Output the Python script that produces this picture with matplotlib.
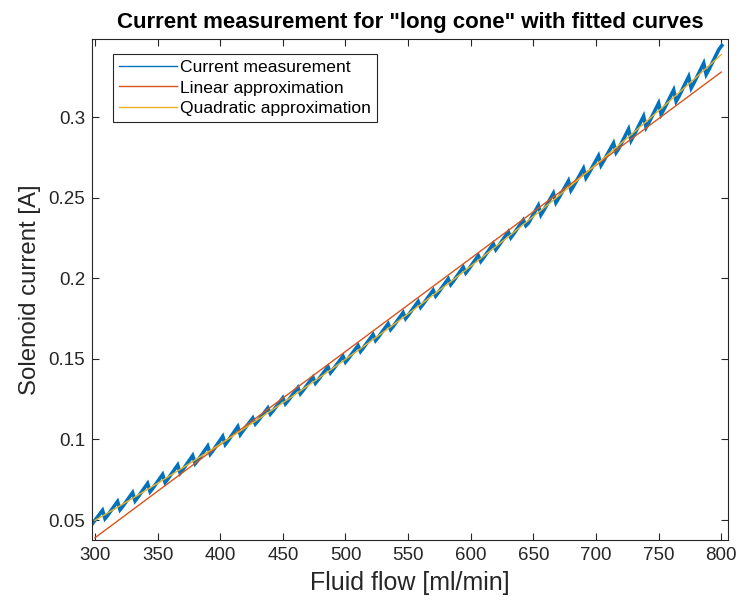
import numpy as np
import matplotlib
matplotlib.use("Agg")
import matplotlib.pyplot as plt

plt.rcParams['font.family'] = ['Liberation Sans', 'DejaVu Sans']

# measured solenoid current while sweeping the flow (one row per ripple of the controller)
flow_ml_min = [
    297.6, 306, 308,  310, 318, 320,  322, 330, 332,  334, 342, 344,
    346, 354, 356,  358, 366, 368,  370, 378, 380,  382, 390, 392,
    394, 402, 404,  406, 414, 416,  418, 426, 428,  430, 438, 440,
    442, 450, 452,  454, 462, 464,  466, 474, 476,  478, 486, 488,
    490, 498, 500,  502, 510, 512,  514, 522, 524,  526, 534, 536,
    538, 546, 548,  550, 558, 560,  562, 570, 572,  574, 582, 584,
    586, 594, 596,  598, 606, 608,  610, 618, 620,  622, 630, 632,
    634, 642, 644,  646, 654, 656,  658, 666, 668,  670, 678, 680,
    682, 690, 692,  694, 702, 704,  706, 714, 716,  718, 726, 728,
    730, 738, 740,  742, 750, 752,  754, 762, 764,  766, 774, 776,
    778, 786, 788,  790, 798, 800.5,
]
current_a = [
    0.0474, 0.0560, 0.0509,  0.0528, 0.0615, 0.0564,  0.0583, 0.0670, 0.0619,
    0.0639, 0.0727, 0.0676,  0.0695, 0.0783, 0.0733,  0.0753, 0.0841, 0.0791,
    0.0811, 0.0900, 0.0850,  0.0869, 0.0959, 0.0909,  0.0929, 0.1019, 0.0969,
    0.0989, 0.1080, 0.1030,  0.1052, 0.1133, 0.1096,  0.1114, 0.1195, 0.1158,
    0.1176, 0.1258, 0.1221,  0.1239, 0.1322, 0.1284,  0.1303, 0.1386, 0.1349,
    0.1368, 0.1451, 0.1414,  0.1433, 0.1517, 0.1480,  0.1499, 0.1583, 0.1546,
    0.1566, 0.1651, 0.1614,  0.1633, 0.1718, 0.1682,  0.1701, 0.1787, 0.1750,
    0.1770, 0.1856, 0.1820,  0.1840, 0.1926, 0.1890,  0.1910, 0.1997, 0.1961,
    0.1981, 0.2069, 0.2033,  0.2053, 0.2141, 0.2105,  0.2125, 0.2214, 0.2178,
    0.2199, 0.2288, 0.2252,  0.2273, 0.2362, 0.2327,  0.2342, 0.2452, 0.2393,
    0.2418, 0.2528, 0.2469,  0.2494, 0.2605, 0.2546,  0.2571, 0.2682, 0.2623,
    0.2648, 0.2760, 0.2701,  0.2727, 0.2839, 0.2780,  0.2803, 0.2926, 0.2855,
    0.2883, 0.3006, 0.2936,  0.2963, 0.3087, 0.3017,  0.3045, 0.3169, 0.3099,
    0.3126, 0.3252, 0.3181,  0.3209, 0.3335, 0.3265,  0.3293, 0.3419, 0.3445,
]
fit_range = [300, 800]

flow = np.array(flow_ml_min)
current = np.array(current_a)

lin = np.polyfit(flow, current, 1)
quad = np.polyfit(flow, current, 2)
xf = np.linspace(fit_range[0], fit_range[1], 200)

fig = plt.figure(figsize=(7.37, 6.05), dpi=100)
ax = fig.add_axes([0.1248, 0.1074, 0.863, 0.8281])

ax.plot(flow, current, color='#0072BD', lw=2.6, solid_joinstyle='miter',
        label='Current measurement')
ax.plot(xf, np.polyval(lin, xf), color='#D95319', lw=1.0, label='Linear approximation')
ax.plot(xf, np.polyval(quad, xf), color='#EDB120', lw=1.0, label='Quadratic approximation')

ax.set_xlim(297.6, 805.4)
ax.set_ylim(0.0376, 0.3485)
ax.set_xticks(np.arange(300, 801, 50))
ax.set_yticks([0.05, 0.1, 0.15, 0.2, 0.25, 0.3])
ax.set_yticklabels(['0.05', '0.1', '0.15', '0.2', '0.25', '0.3'])

axis_col = '#262626'
for s in ax.spines.values():
    s.set_color(axis_col)
    s.set_linewidth(0.8)
ax.tick_params(direction='in', length=5, width=0.8, colors=axis_col,
               top=True, right=True, labelsize=13.5, pad=5)

ax.set_xlabel('Fluid flow [ml/min]', fontsize=18, color=axis_col, labelpad=5)
ax.set_ylabel('Solenoid current [A]', fontsize=17.3, color=axis_col, labelpad=5)
ax.set_title('Current measurement for "long cone" with fitted curves',
             fontsize=16, fontweight='bold', pad=8)

leg = ax.legend(loc='upper left', bbox_to_anchor=(0.033, 0.97), borderaxespad=0,
                fontsize=12.6, fancybox=False, framealpha=1, edgecolor=axis_col,
                handlelength=3.3, handletextpad=0.2, labelspacing=0.28,
                borderpad=0.35)
leg.get_frame().set_linewidth(0.8)
for h in leg.get_lines():
    h.set_linewidth(1.0)

fig.savefig('out.png', dpi=100)
